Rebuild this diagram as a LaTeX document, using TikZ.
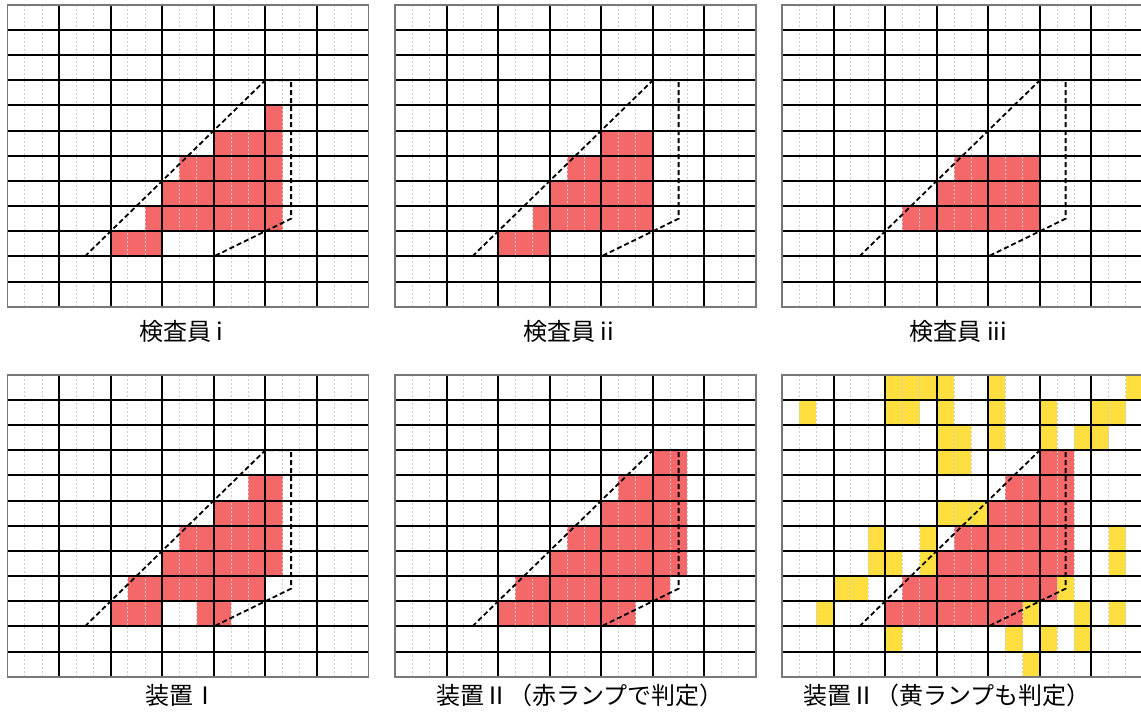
\documentclass[tikz,border=0pt]{standalone}
\usepackage{fontspec}
\newfontfamily\jp{Noto Sans CJK JP}
\definecolor{cellred}{RGB}{245,104,106}
\definecolor{cellyel}{RGB}{255,223,63}
\definecolor{rim}{RGB}{120,120,120}
\tikzset{
 sub line/.style={draw=gray!40, line width=0.7bp, dash pattern=on 2bp off 2bp},
 main line/.style={draw=black, line width=1.9bp},
 rim line/.style={draw=rim, line width=1.9bp},
 zone/.style={draw=black, line width=1.8bp, dash pattern=on 5bp off 3bp, line join=miter},
 caption text/.style={font=\jp\fontsize{24bp}{28bp}\selectfont, inner sep=0pt},
 cellgrid/.style={x=17.19bp, y=-25.17bp},
}
\newcommand\mygrid{%
 \foreach \i in {1,2,4,5,7,8,10,11,13,14,16,17,19,20} \draw[sub line] (\i,0) -- (\i,12);
 \foreach \i in {3,6,...,18} \draw[main line] (\i,0) -- (\i,12);
 \foreach \j in {1,...,11} \draw[main line] (0,\j) -- (21,\j);
 \draw[rim line] (0,0) rectangle (21,12);
 \draw[zone] (4.5,10) -- (15,3) -- (16.5,3) -- (16.5,8.5) -- (12,10);
}
\newcommand\cells[2]{\foreach \a/\b/\r in {#2} \fill[#1] (\a,\r) rectangle (\b,\r+1);}
\begin{document}
\begin{tikzpicture}
\useasboundingbox (0,0) rectangle (1141bp,-720bp);
\clip (0,0) rectangle (1141bp,-720bp);
% panel 1
\begin{scope}[shift={(7.5bp,-4.7bp)}, cellgrid]
 \cells{cellred}{15/16/4, 12/16/5, 10/16/6, 9/16/7, 8/16/8, 6/9/9}
 \mygrid
\end{scope}
% panel 2
\begin{scope}[shift={(395bp,-4.7bp)}, cellgrid]
 \cells{cellred}{12/15/5, 10/15/6, 9/15/7, 8/15/8, 6/9/9}
 \mygrid
\end{scope}
% panel 3
\begin{scope}[shift={(782bp,-4.7bp)}, cellgrid]
 \cells{cellred}{10/15/6, 9/15/7, 7/15/8}
 \mygrid
\end{scope}
% panel 4
\begin{scope}[shift={(7.5bp,-374.7bp)}, cellgrid]
 \cells{cellred}{14/16/4, 12/16/5, 10/16/6, 9/16/7, 7/15/8, 6/9/9, 11/13/9}
 \mygrid
\end{scope}
% panel 5
\begin{scope}[shift={(395bp,-374.7bp)}, cellgrid]
 \cells{cellred}{15/17/3, 13/17/4, 12/17/5, 10/17/6, 9/17/7, 7/16/8, 6/14/9}
 \mygrid
\end{scope}
% panel 6
\begin{scope}[shift={(782bp,-374.7bp)}, cellgrid]
 \cells{cellred}{15/17/3, 13/17/4, 12/17/5, 10/17/6, 9/17/7, 7/16/8, 6/14/9}
 \cells{cellyel}{6/10/0, 12/13/0, 20/21/0,
  1/2/1, 6/8/1, 9/10/1, 12/13/1, 15/16/1, 18/20/1,
  9/11/2, 12/13/2, 15/16/2, 17/19/2,
  9/11/3,
  9/12/5,
  5/6/6, 8/9/6, 19/20/6,
  5/7/7, 8/9/7, 19/20/7,
  3/5/8, 16/17/8,
  2/3/9, 14/15/9, 17/18/9, 19/20/9,
  6/7/10, 13/14/10, 15/16/10, 17/18/10,
  14/15/11}
 \mygrid
\end{scope}
% captions
\node[caption text] (lab1) at (181bp,-331bp) {検査員 i};
\node[caption text] (lab2) at (568.5bp,-331bp) {検査員 ii};
\node[caption text] (lab3) at (958.5bp,-331bp) {検査員 iii};
\node[caption text] (lab4) at (181bp,-695bp) {装置Ⅰ};
\node[caption text] (lab5) at (580bp,-695bp) {装置Ⅱ（赤ランプで判定）};
\node[caption text] (lab6) at (947bp,-695bp) {装置Ⅱ（黄ランプも判定）};
\end{tikzpicture}
\end{document}
